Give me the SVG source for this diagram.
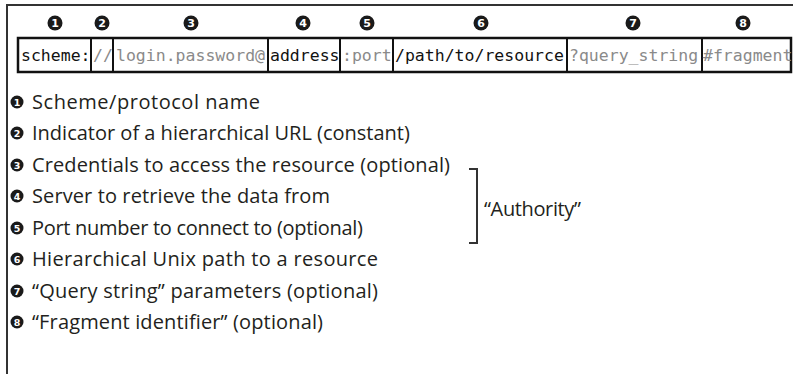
<svg xmlns="http://www.w3.org/2000/svg" width="793" height="374" viewBox="0 0 793 374">
<style>
.hc{fill:#1a1a1a}
.hd{font-family:"DejaVu Sans",sans-serif;font-weight:bold;font-size:11px;fill:#fff;text-anchor:middle}
.ld{font-family:"DejaVu Sans",sans-serif;font-weight:bold;font-size:9.5px;fill:#fff;text-anchor:middle}
.mono{font-family:"DejaVu Sans Mono",monospace;font-size:16.5px}
.blk{fill:#111}
.gry{fill:#8a8a8a}
.leg{font-family:"Open Sans","Liberation Sans",sans-serif;font-size:20px;fill:#231f20}
.frame{stroke:#333;stroke-width:2;fill:none}
.box{stroke:#111;stroke-width:2.5;fill:none}
.div{stroke:#111;stroke-width:2}
</style>
<defs>
<circle id="hcirc" r="7.5" class="hc"/>
<circle id="lcirc" r="6.5" class="hc"/>
</defs>
<g id="frame">
<path class="frame" d="M7,374 V5 H793"/>
</g>
<g id="header-numbers">
<use href="#hcirc" x="55" y="23"/><text class="hd" x="55" y="27">1</text>
<use href="#hcirc" x="102" y="23"/><text class="hd" x="102" y="27">2</text>
<use href="#hcirc" x="191" y="23"/><text class="hd" x="191" y="27">3</text>
<use href="#hcirc" x="303" y="23"/><text class="hd" x="303" y="27">4</text>
<use href="#hcirc" x="367" y="23"/><text class="hd" x="367" y="27">5</text>
<use href="#hcirc" x="481" y="23"/><text class="hd" x="481" y="27">6</text>
<use href="#hcirc" x="633" y="23"/><text class="hd" x="633" y="27">7</text>
<use href="#hcirc" x="743" y="23"/><text class="hd" x="743" y="27">8</text>
</g>
<g id="url">
<rect class="box" x="18" y="38" width="773" height="34"/>
<line class="div" x1="91" y1="38" x2="91" y2="72"/>
<line class="div" x1="113" y1="38" x2="113" y2="72"/>
<line class="div" x1="268" y1="38" x2="268" y2="72"/>
<line class="div" x1="340" y1="38" x2="340" y2="72"/>
<line class="div" x1="393" y1="38" x2="393" y2="72"/>
<line class="div" x1="567" y1="38" x2="567" y2="72"/>
<line class="div" x1="702" y1="38" x2="702" y2="72"/>
<text class="mono blk" x="21" y="61">scheme:</text>
<text class="mono gry" x="93" y="61">//</text>
<text class="mono gry" x="116" y="61">login.password@</text>
<text class="mono blk" x="270" y="61">address</text>
<text class="mono gry" x="342" y="61">:port</text>
<text class="mono blk" x="395" y="61">/path/to/resource</text>
<text class="mono gry" x="569" y="61">?query_string</text>
<text class="mono gry" x="703" y="61">#fragment</text>
</g>
<g id="legend">
<g id="item1"><use href="#lcirc" x="17" y="102"/><text class="ld" x="17" y="105.5">1</text><text class="leg" x="32" y="109" textLength="228">Scheme/protocol name</text></g>
<g id="item2"><use href="#lcirc" x="17" y="133"/><text class="ld" x="17" y="136.5">2</text><text class="leg" x="32" y="140">Indicator of a hierarchical URL (constant)</text></g>
<g id="item3"><use href="#lcirc" x="17" y="165"/><text class="ld" x="17" y="168.5">3</text><text class="leg" x="32" y="172" textLength="418">Credentials to access the resource (optional)</text></g>
<g id="item4"><use href="#lcirc" x="17" y="196"/><text class="ld" x="17" y="199.5">4</text><text class="leg" x="32" y="203" textLength="298">Server to retrieve the data from</text></g>
<g id="item5"><use href="#lcirc" x="17" y="228"/><text class="ld" x="17" y="231.5">5</text><text class="leg" x="32" y="235" textLength="331">Port number to connect to (optional)</text></g>
<g id="item6"><use href="#lcirc" x="17" y="259"/><text class="ld" x="17" y="262.5">6</text><text class="leg" x="32" y="266" textLength="346">Hierarchical Unix path to a resource</text></g>
<g id="item7"><use href="#lcirc" x="17" y="291"/><text class="ld" x="17" y="294.5">7</text><text class="leg" x="32" y="298" textLength="346">“Query string” parameters (optional)</text></g>
<g id="item8"><use href="#lcirc" x="17" y="322"/><text class="ld" x="17" y="325.5">8</text><text class="leg" x="32" y="329" textLength="291">“Fragment identifier” (optional)</text></g>
</g>
<g id="authority">
<path class="frame" d="M469,169 H477 V243 H469"/>
<text class="leg" x="484" y="216" textLength="97">“Authority”</text>
</g>
</svg>
